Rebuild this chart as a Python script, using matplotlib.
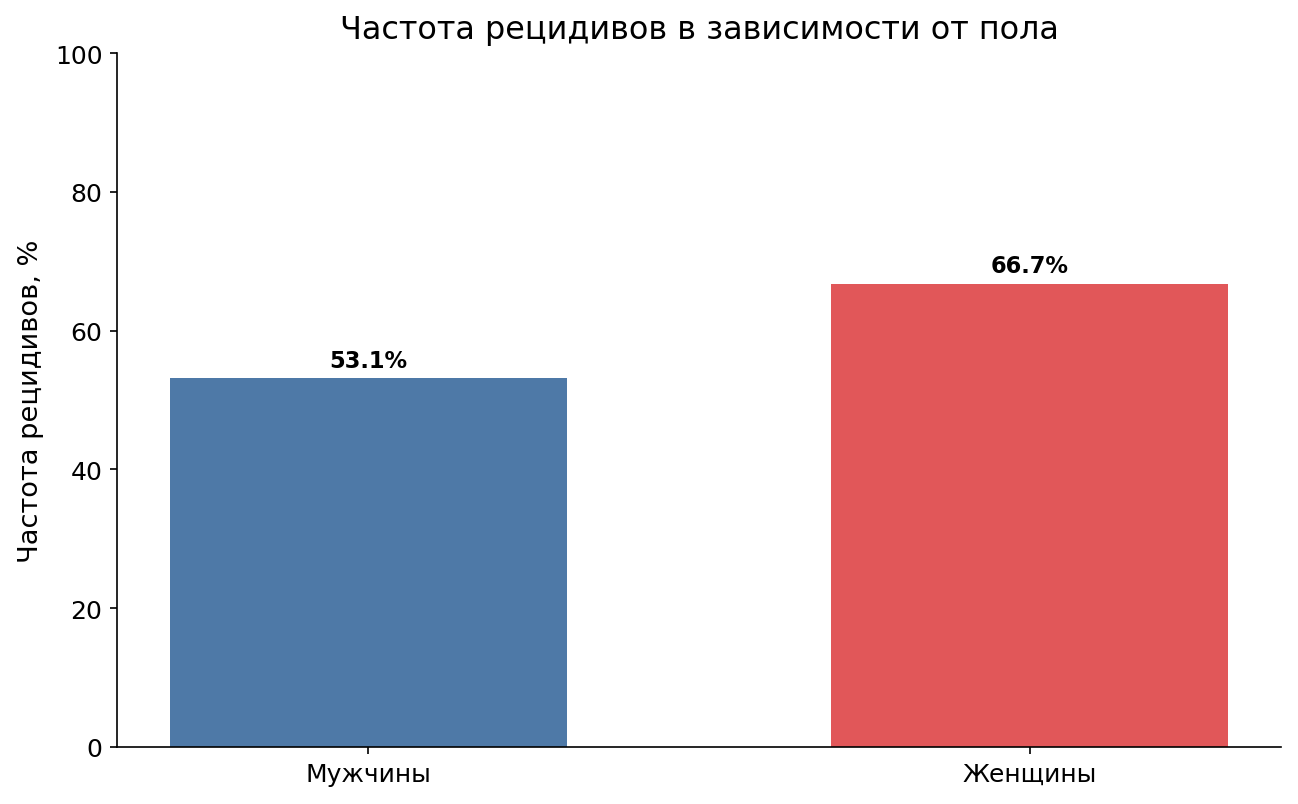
import matplotlib
matplotlib.use("Agg")
import matplotlib.pyplot as plt

categories = ["Мужчины", "Женщины"]
values = [53.1, 66.7]
colors = ["#4e79a7", "#e15759"]

fig = plt.figure(figsize=(1298/150, 805/150), dpi=150)
ax = fig.add_axes([117/1298, 1 - 748/805, (1281-117)/1298, (748-54)/805])
x = range(len(categories))
bars = ax.bar(x, values, width=0.6, color=colors)
for b, v in zip(bars, values):
    ax.text(b.get_x() + b.get_width()/2, v + 1, f"{v}%", ha="center", va="bottom",
            fontsize=10.8, fontweight="bold")
ax.set_xticks(list(x))
ax.set_xticklabels(categories, fontsize=12)
ax.tick_params(axis="y", labelsize=12)
ax.set_ylim(0, 100)
ax.set_ylabel("Частота рецидивов, %", fontsize=13.1, labelpad=5)
ax.set_title("Частота рецидивов в зависимости от пола", fontsize=15.3, pad=7)
ax.spines["top"].set_visible(False)
ax.spines["right"].set_visible(False)
fig.savefig("out.png", dpi=150)
